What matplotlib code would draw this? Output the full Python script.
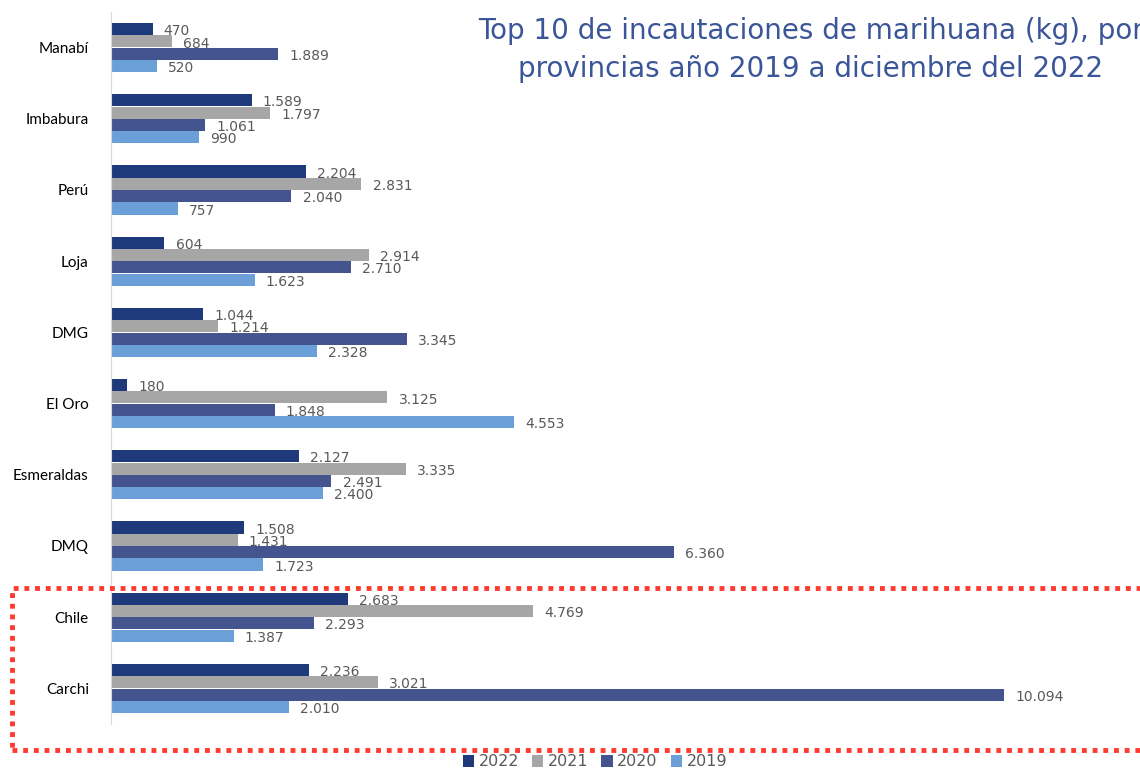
import matplotlib.pyplot as plt
import numpy as np
from matplotlib.patches import Rectangle

# Data (kg)
provincias = ['Manabí', 'Imbabura', 'Perú', 'Loja', 'DMG', 'El Oro',
              'Esmeraldas', 'DMQ', 'Chile', 'Carchi']
v2022 = [470, 1589, 2204, 604, 1044, 180, 2127, 1508, 2683, 2236]
v2021 = [684, 1797, 2831, 2914, 1214, 3125, 3335, 1431, 4769, 3021]
v2020 = [1889, 1061, 2040, 2710, 3345, 1848, 2491, 6360, 2293, 10094]
v2019 = [520, 990, 757, 1623, 2328, 4553, 2400, 1723, 1387, 2010]
years = ['2022', '2021', '2020', '2019']
colors = ['#1f3a7a', '#a6a6a6', '#44548f', '#6a9fd8']

fig = plt.figure(figsize=(11.4, 7.69), dpi=100)
ax = fig.add_axes([111 / 1140, 1 - 724 / 769, 1 - 111 / 1140, 712 / 769])

y = np.arange(len(provincias))
h = 0.173
series = [v2022, v2021, v2020, v2019]
for i, (vals, col, yr) in enumerate(zip(series, colors, years)):
    pos = y + (i - 1.5) * h
    ax.barh(pos, vals, height=h * 0.98, color=col, label=yr)
    for p, v in zip(pos, vals):
        txt = f'{v:,}'.replace(',', '.')
        ax.annotate(txt, (v, p), xytext=(8, -1.5), textcoords='offset points',
                    ha='left', va='center', fontsize=10, color='#595959')

ax.set_ylim(len(provincias) - 0.5, -0.5)
ax.set_xlim(0, 11630)
ax.set_yticks(y)
ax.set_yticklabels(provincias, fontsize=11, family='Lato')
ax.tick_params(axis='y', length=0, pad=16)
ax.set_xticks([])
for s in ['top', 'right', 'bottom']:
    ax.spines[s].set_visible(False)
ax.spines['left'].set_color('#d9d9d9')

fig.text(0.711, 0.935, 'Top 10 de incautaciones de marihuana (kg), por\n'
         'provincias año 2019 a diciembre del 2022',
         ha='center', va='center', fontsize=20, color='#3a5598', linespacing=1.45)

# red dotted highlight box
rect = Rectangle((12 / 1140, 1 - 750 / 769), 1.2, 162 / 769, transform=fig.transFigure,
                 fill=False, edgecolor='#ff3b30', linewidth=3.5,
                 linestyle=(0, (1, 1.2)))
fig.patches.append(rect)

leg = fig.legend(loc='center', bbox_to_anchor=(595 / 1140, 1 - 762 / 769), ncol=4,
                 frameon=False, fontsize=11.5, handlelength=0.7, handleheight=0.7,
                 handletextpad=0.3, columnspacing=0.8)
for t in leg.get_texts():
    t.set_color('#595959')

fig.savefig('out.png', dpi=100)
